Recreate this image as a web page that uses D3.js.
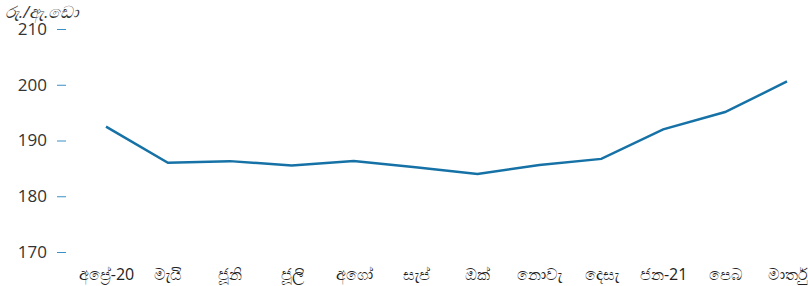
<!DOCTYPE html>
<html>
<head>
  <meta charset="utf-8">
  <script src="https://d3js.org/d3.v7.min.js"></script>
  <style>
    body { margin: 0; background: #fff; }
    svg text { font-family: "Open Sans", "Noto Sans", sans-serif; }
  </style>
</head>
<body>
  <svg class="chart" width="808" height="286"></svg>
  <script>
    // monthly values, Rs./US$
    var months = ["අප්‍රේ-20", "මැයි", "ජූනි", "ජූලි", "අගෝ", "සැප්", "ඔක්", "නොවැ", "දෙසැ", "ජන-21", "පෙබ", "මාර්තු"];
    var values = [192.5, 186.0, 186.3, 185.5, 186.3, 185.2, 184.0, 185.6, 186.7, 192.0, 195.1, 200.6];
    var yTicks = [170, 180, 190, 200, 210];
    var unitLabel = "රු./ඇ.ඩො";

    var svg = d3.select("svg.chart");
    var lineColor = "#1672a6";

    var x = d3.scalePoint()
              .domain(months)
              .range([106, 787]);

    var y = d3.scaleLinear()
              .domain([170, 210])
              .range([252, 29]);

    // y axis: short ticks, labels to the left, no domain line
    var yAxis = svg.append("g")
      .attr("transform", "translate(66,0)")
      .call(d3.axisLeft(y).tickValues(yTicks).tickSize(9).tickPadding(10));
    yAxis.select(".domain").remove();
    yAxis.selectAll(".tick line").attr("stroke", "#3b8fc4");
    yAxis.selectAll(".tick text")
      .attr("fill", "#333")
      .style("font-size", "17px");

    // x axis labels only
    var xAxis = svg.append("g")
      .attr("transform", "translate(0,258)")
      .call(d3.axisBottom(x).tickSize(0).tickPadding(11));
    xAxis.select(".domain").remove();
    xAxis.selectAll(".tick text")
      .attr("fill", "#222")
      .style("font-size", "16px");
    // keep the last label inside the frame
    xAxis.selectAll(".tick text")
      .filter(function(d) { return d === months[months.length - 1]; })
      .attr("text-anchor", "end")
      .attr("dx", 20);

    svg.append("text")
      .attr("x", 5)
      .attr("y", 18)
      .attr("fill", "#333")
      .style("font-size", "17px")
      .style("font-style", "italic")
      .text(unitLabel);

    var line = d3.line()
      .x(function(d, i) { return x(months[i]); })
      .y(function(d) { return y(d); });

    svg.append("path")
      .datum(values)
      .attr("fill", "none")
      .attr("stroke", lineColor)
      .attr("stroke-width", 2.5)
      .attr("d", line);
  </script>
</body>
</html>
